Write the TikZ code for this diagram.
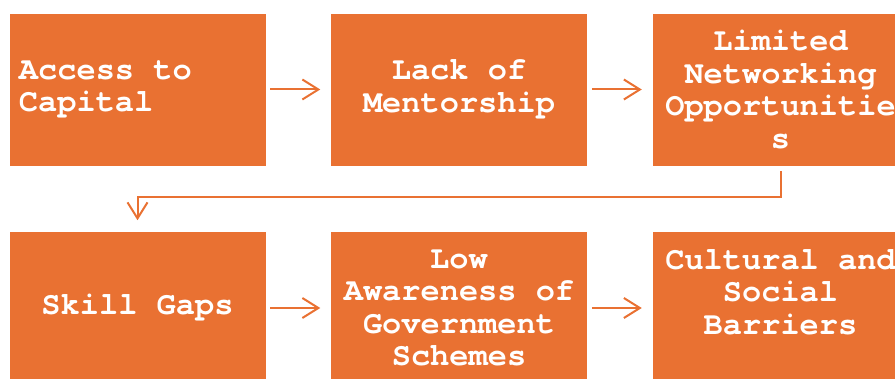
\documentclass[tikz,border=0pt]{standalone}
\usepackage{fontspec}
\setmonofont{texgyrecursor}[Extension=.otf,UprightFont=*-regular,BoldFont=*-bold]
\usetikzlibrary{positioning}
\usetikzlibrary{arrows.meta}
\definecolor{boxorange}{HTML}{E97132}

\begin{document}
\begin{tikzpicture}[->,>={Straight Barb[length=16pt,width=20pt]},x=1pt,y=1pt,
			node distance=64pt,line width=2pt]
			\tikzstyle{barrier}=[rectangle,fill=boxorange,draw=white,line width=0.5pt,
			minimum width=257pt,minimum height=153pt,inner xsep=10pt,inner ysep=0pt,
			text width=237pt,align=center,text=white,
			font=\ttfamily\bfseries\fontsize{32}{32.5}\selectfont,
			execute at begin node={\spaceskip=19.2pt\xspaceskip=19.2pt}]
			\tikzstyle{flow}=[draw=boxorange,line width=2pt,shorten <=4pt,shorten >=10pt]
			
			\useasboundingbox (0,0) rectangle (895,378);
			
			\node[barrier,align=left] (S_cap)    at (137.5,288.5)    {Access to\\Capital};
			\node[barrier]            (S_mentor) [right=of S_cap]    {Lack of\\Mentorship};
			\node[barrier]            (S_net)    [right=of S_mentor] {Limited\\Networking\\Opportunitie\\s};
			\node[barrier]            (S_skill)  [below=65pt of S_cap] {Skill Gaps};
			\node[barrier]            (S_aware)  [right=of S_skill]  {Low\\Awareness of\\Government\\Schemes};
			\node[barrier]            (S_social) [right=of S_aware]  {Cultural and\\Social\\Barriers\\\mbox{}};
			
			\path[flow] (S_cap)    edge (S_mentor)
			(S_mentor) edge (S_net)
			(S_skill)  edge (S_aware)
			(S_aware)  edge (S_social);
			
			% wrap round to the second row
			\draw[flow,shorten <=5pt,shorten >=11pt] (S_net.south) -- ++(0,-31) -| (S_skill.north);
			\end{tikzpicture}
\end{document}
